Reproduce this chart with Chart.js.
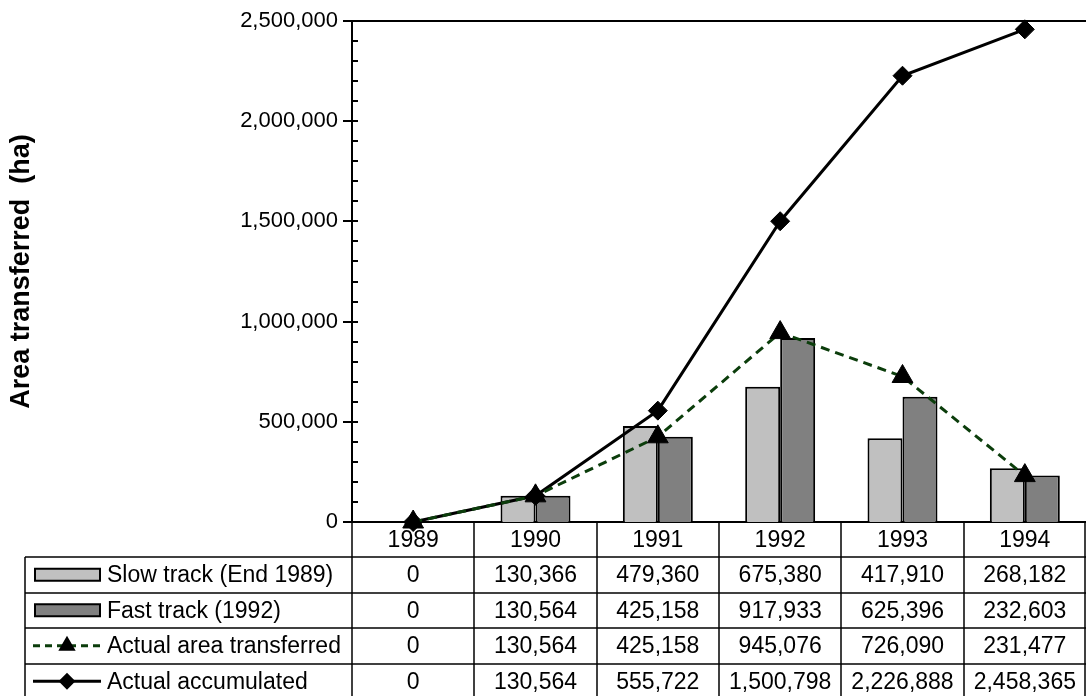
<!DOCTYPE html>
<html>
<head>
<meta charset="utf-8">
<script src="https://cdn.jsdelivr.net/npm/chart.js@4.4.1/dist/chart.umd.min.js"></script>
<style>
  html, body { margin: 0; padding: 0; background: #fff; }
  #wrap { width: 1086px; height: 696px; }
</style>
</head>
<body>
<div id="wrap"><canvas id="chart"></canvas></div>
<script>
// ---- data ----
const years = ['1989', '1990', '1991', '1992', '1993', '1994'];
const slowTrack = [0, 130366, 479360, 675380, 417910, 268182];
const fastTrack = [0, 130564, 425158, 917933, 625396, 232603];
const actualArea = [0, 130564, 425158, 945076, 726090, 231477];
const actualAccum = [0, 130564, 555722, 1500798, 2226888, 2458365];
const yTicks = [0, 500000, 1000000, 1500000, 2000000, 2500000];

const seriesNames = ['Slow track (End 1989)', 'Fast track (1992)', 'Actual area transferred', 'Actual accumulated'];
const FONT = '"Liberation Sans", Arial, sans-serif';
const GREEN = '#0b3d0b';

function fmt(v) {
  return v.toLocaleString('en-US');
}

// axis ticks (major + minor) and top border
const axisPlugin = {
  id: 'axisTicks',
  afterDraw(chart) {
    const ctx = chart.ctx, y = chart.scales.y, a = chart.chartArea;
    ctx.save();
    ctx.strokeStyle = '#000';
    ctx.lineWidth = 2;
    for (let v = 0; v <= 2500000; v += 100000) {
      const py = Math.round(y.getPixelForValue(v));
      ctx.beginPath();
      if (v % 500000 === 0) {
        ctx.moveTo(a.left - 9, py);
        ctx.lineTo(a.left + 6, py);
      } else {
        ctx.moveTo(a.left, py);
        ctx.lineTo(a.left + 6, py);
      }
      ctx.stroke();
    }
    // top border of plot
    ctx.beginPath();
    ctx.moveTo(a.left - 9, a.top);
    ctx.lineTo(a.right, a.top);
    ctx.stroke();
    ctx.restore();
  }
};

// data table under the plot
const tablePlugin = {
  id: 'dataTable',
  afterDraw(chart) {
    const ctx = chart.ctx, x = chart.scales.x, a = chart.chartArea;
    const colW = (a.right - a.left) / years.length;
    const headTop = a.bottom, headBot = a.bottom + 35;
    const rowH = 35.5;
    const legLeft = 25;
    const rows = [slowTrack, fastTrack, actualArea, actualAccum];

    ctx.save();
    ctx.strokeStyle = '#000';
    ctx.lineWidth = 1.5;

    // vertical lines
    for (let i = 0; i <= years.length; i++) {
      let px = Math.round(a.left + i * colW);
      if (i === years.length) px = a.right - 1;
      ctx.beginPath();
      ctx.moveTo(px, headTop);
      ctx.lineTo(px, headBot + rowH * 4);
      ctx.stroke();
    }
    ctx.beginPath();
    ctx.moveTo(legLeft, headBot);
    ctx.lineTo(legLeft, headBot + rowH * 4);
    ctx.stroke();

    // horizontal lines
    for (let r = 0; r <= 4; r++) {
      const py = Math.round(headBot + r * rowH);
      ctx.beginPath();
      ctx.moveTo(legLeft, py);
      ctx.lineTo(a.right, py);
      ctx.stroke();
    }

    ctx.fillStyle = '#000';
    ctx.font = '23px ' + FONT;
    ctx.textAlign = 'center';
    ctx.textBaseline = 'middle';

    // header years
    years.forEach((yr, i) => {
      ctx.fillText(yr, x.getPixelForValue(i), (headTop + headBot) / 2 + 1);
    });

    // values
    rows.forEach((vals, r) => {
      const cy = headBot + r * rowH + rowH / 2 + 1;
      vals.forEach((v, i) => {
        ctx.fillText(fmt(v), x.getPixelForValue(i), cy);
      });
    });

    // legend keys + names
    ctx.textAlign = 'left';
    seriesNames.forEach((name, r) => {
      const cy = headBot + r * rowH + rowH / 2;
      if (r < 2) {
        ctx.fillStyle = r === 0 ? '#c0c0c0' : '#808080';
        ctx.fillRect(35, cy - 6, 65, 12);
        ctx.lineWidth = 2;
        ctx.strokeStyle = '#000';
        ctx.strokeRect(35, cy - 6, 65, 12);
      } else if (r === 2) {
        ctx.save();
        ctx.strokeStyle = GREEN;
        ctx.lineWidth = 3;
        ctx.setLineDash([7, 5]);
        ctx.beginPath();
        ctx.moveTo(33, cy);
        ctx.lineTo(101, cy);
        ctx.stroke();
        ctx.restore();
        ctx.fillStyle = '#000';
        Chart.helpers.drawPoint(ctx, { pointStyle: 'triangle', radius: 8, borderWidth: 1, rotation: 0 }, 67, cy);
        ctx.fill();
      } else {
        ctx.save();
        ctx.strokeStyle = '#000';
        ctx.lineWidth = 3;
        ctx.beginPath();
        ctx.moveTo(33, cy);
        ctx.lineTo(101, cy);
        ctx.stroke();
        ctx.restore();
        ctx.fillStyle = '#000';
        Chart.helpers.drawPoint(ctx, { pointStyle: 'rectRot', radius: 7, borderWidth: 1, rotation: 0 }, 67, cy);
        ctx.fill();
      }
      ctx.fillStyle = '#000';
      ctx.fillText(name, 107, cy + 1);
    });
    ctx.restore();
  }
};

const ctx = document.getElementById('chart').getContext('2d');
const chart = new Chart(ctx, {
  data: {
    labels: years,
    datasets: [
      {
        type: 'line', label: seriesNames[2], data: actualArea, order: 1,
        borderColor: GREEN, borderWidth: 3, borderDash: [9, 6],
        pointStyle: 'triangle', pointRadius: 12, pointBackgroundColor: '#000', pointBorderColor: '#000',
        pointBorderWidth: 1, tension: 0, clip: false
      },
      {
        type: 'line', label: seriesNames[3], data: actualAccum, order: 2,
        borderColor: '#000', borderWidth: 3,
        pointStyle: 'rectRot', pointRadius: 9.5, pointBackgroundColor: '#000', pointBorderColor: '#000',
        pointBorderWidth: 1, tension: 0, clip: false
      },
      {
        type: 'bar', label: seriesNames[0], data: slowTrack, order: 3,
        backgroundColor: '#c0c0c0', borderColor: '#000', borderWidth: 2,
        categoryPercentage: 0.572, barPercentage: 1.0
      },
      {
        type: 'bar', label: seriesNames[1], data: fastTrack, order: 4,
        backgroundColor: '#808080', borderColor: '#000', borderWidth: 2,
        categoryPercentage: 0.572, barPercentage: 1.0
      }
    ]
  },
  options: {
    responsive: true,
    maintainAspectRatio: false,
    animation: false,
    layout: { autoPadding: false, padding: { top: 21, right: 0, left: 0, bottom: 0 } },
    plugins: { legend: { display: false }, tooltip: { enabled: false } },
    scales: {
      x: {
        grid: { display: false },
        border: { display: true, color: '#000', width: 2 },
        ticks: { display: false },
        afterFit(s) { s.height = 174; }
      },
      y: {
        min: 0, max: 2500000,
        afterBuildTicks(s) { s.ticks = yTicks.map(v => ({ value: v })); },
        grid: { display: false },
        border: { display: true, color: '#000', width: 2 },
        ticks: {
          color: '#000', padding: 6,
          font: { family: FONT, size: 22 },
          callback: v => fmt(v)
        },
        title: {
          display: true, text: 'Area transferred  (ha)', color: '#000',
          font: { family: FONT, size: 27, weight: 'bold' },
          padding: { top: 5, bottom: 0 }
        },
        afterFit(s) { s.width = 352; s.paddingTop = 0; s.paddingBottom = 0; }
      }
    }
  },
  plugins: [axisPlugin, tablePlugin]
});
</script>
</body>
</html>
